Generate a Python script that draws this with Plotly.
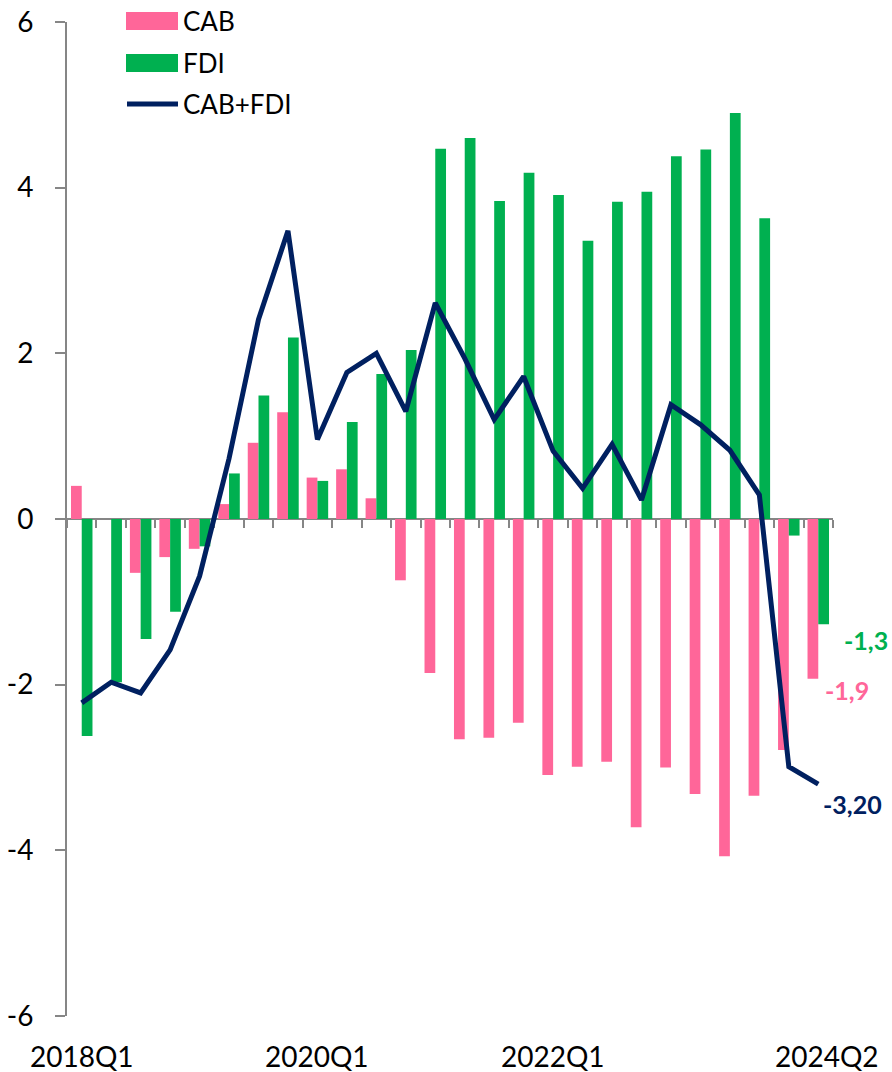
import plotly.graph_objects as go

trimestres = ['2018Q1', '2018Q2', '2018Q3', '2018Q4', '2019Q1', '2019Q2', '2019Q3', '2019Q4',
              '2020Q1', '2020Q2', '2020Q3', '2020Q4', '2021Q1', '2021Q2', '2021Q3', '2021Q4',
              '2022Q1', '2022Q2', '2022Q3', '2022Q4', '2023Q1', '2023Q2', '2023Q3', '2023Q4',
              '2024Q1', '2024Q2']
cab = [0.40, 0.00, -0.65, -0.46, -0.36, 0.18, 0.92, 1.29, 0.50, 0.60, 0.25, -0.74, -1.86,
       -2.66, -2.64, -2.46, -3.09, -2.99, -2.93, -3.72, -3.00, -3.32, -4.07, -3.34, -2.79, -1.93]
fdi = [-2.62, -1.97, -1.45, -1.12, -0.33, 0.55, 1.49, 2.19, 0.46, 1.17, 1.75, 2.04, 4.47,
       4.60, 3.84, 4.18, 3.91, 3.36, 3.83, 3.95, 4.38, 4.46, 4.90, 3.63, -0.20, -1.27]
cab_fdi = [-2.22, -1.97, -2.10, -1.58, -0.69, 0.73, 2.41, 3.48, 0.96, 1.77, 2.00, 1.30, 2.61,
           1.94, 1.20, 1.72, 0.82, 0.37, 0.90, 0.23, 1.38, 1.14, 0.83, 0.29, -2.99, -3.20]
rotulos_x = ['2018Q1', '2020Q1', '2022Q1', '2024Q2']
ticks_y = [-6, -4, -2, 0, 2, 4, 6]
rotulos_y = ['-6', '-4', '-2', '0', '2', '4', '6']

ROSA = '#FF6699'
VERDE = '#00B050'
AZUL = '#002060'
CINZA = '#868686'
FONTE = 'Lato'

fig = go.Figure()
fig.add_trace(go.Bar(x=trimestres, y=cab, name='CAB', marker=dict(color=ROSA, line=dict(width=0))))
fig.add_trace(go.Bar(x=trimestres, y=fdi, name='FDI', marker=dict(color=VERDE, line=dict(width=0))))
fig.add_trace(go.Scatter(x=trimestres, y=cab_fdi, name='CAB+FDI', mode='lines',
                         line=dict(color=AZUL, width=5)))

# legenda desenhada à mão (estilo Excel, retângulos largos no canto superior)
itens_legenda = [('CAB', ROSA, 'rect', 1), ('FDI', VERDE, 'rect', -41), ('CAB+FDI', AZUL, 'line', -82)]
for nome, cor, tipo, dy in itens_legenda:
    if tipo == 'rect':
        fig.add_shape(type='rect', xref='paper', yref='paper', xsizemode='pixel', ysizemode='pixel',
                      xanchor=0, yanchor=1, x0=59, x1=111, y0=dy - 9, y1=dy + 9,
                      fillcolor=cor, line=dict(width=0))
    else:
        fig.add_shape(type='line', xref='paper', yref='paper', xsizemode='pixel', ysizemode='pixel',
                      xanchor=0, yanchor=1, x0=60, x1=111, y0=dy, y1=dy,
                      line=dict(color=cor, width=5))
    fig.add_annotation(x=0, y=1, xref='paper', yref='paper', text=nome, showarrow=False,
                       xanchor='left', yanchor='middle', xshift=114, yshift=dy,
                       font=dict(family=FONTE, size=26, color='black'))

# rótulos do último ponto
ultimo = trimestres[-1]
fig.add_annotation(x=ultimo, y=fdi[-1], text=f'<b>{fdi[-1]:.1f}</b>'.replace('.', ','),
                   showarrow=False, xshift=48, yshift=-16, font=dict(family=FONTE, size=25, color=VERDE))
fig.add_annotation(x=ultimo, y=cab[-1], text=f'<b>{cab[-1]:.1f}</b>'.replace('.', ','),
                   showarrow=False, xshift=29, yshift=-11, font=dict(family=FONTE, size=25, color=ROSA))
fig.add_annotation(x=ultimo, y=cab_fdi[-1], text=f'<b>{cab_fdi[-1]:.2f}</b>'.replace('.', ','),
                   showarrow=False, xshift=34, yshift=-20, font=dict(family=FONTE, size=25, color=AZUL))

# rótulos do eixo x embaixo do gráfico
for r in rotulos_x:
    fig.add_annotation(x=r, y=0, xref='x', yref='paper', text=r, showarrow=False,
                       yanchor='middle', yshift=-40, xshift=9 if r == '2024Q2' else 0,
                       font=dict(family=FONTE, size=28, color='black'))

fig.update_layout(
    width=892, height=1072,
    barmode='group', bargap=0.27, bargroupgap=0,
    plot_bgcolor='white', paper_bgcolor='white',
    margin=dict(l=67, r=59, t=22, b=56),
    font=dict(family=FONTE, color='black'),
    showlegend=False,
    xaxis=dict(type='category', range=[-0.5, 25.5], anchor='free', position=0.5, showline=True,
               linecolor=CINZA, linewidth=2, ticks='outside', ticklen=8, tickwidth=2, tickcolor=CINZA,
               tickson='boundaries', tickmode='linear', dtick=1, showticklabels=False, showgrid=False,
               zeroline=False, layer='below traces', automargin=False),
    yaxis=dict(range=[-6, 6], tickvals=ticks_y, ticktext=rotulos_y, showline=True, linecolor=CINZA,
               linewidth=2, ticks='outside', ticklen=10, tickwidth=2, tickcolor=CINZA,
               showgrid=False, zeroline=False, ticklabelstandoff=16, automargin=False,
               tickfont=dict(family=FONTE, size=28, color='black')),
)

# sem margem no body para o gráfico ocupar a janela inteira
fig.write_html("out.html", config={'displayModeBar': False},
               post_script="document.body.style.margin = '0';")
